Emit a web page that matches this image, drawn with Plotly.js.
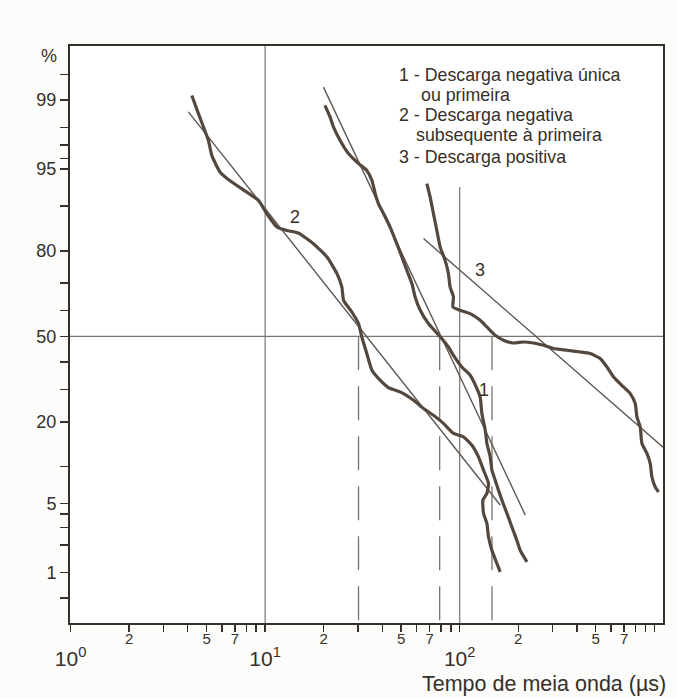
<!DOCTYPE html>
<html><head><meta charset="utf-8">
<script src="https://cdn.plot.ly/plotly-3.0.1.min.js"></script>
<style>html,body{margin:0;padding:0;background:#fcfcfb}#chart{width:677px;height:698px}</style>
</head><body><div id="chart"></div>
<script>
// ---- data (x: µs, y: cumulative %) ----
// Curve 1 – Descarga negativa única ou primeira
const c1_us  = [20.3,21.6,22.5,24.3,26.8,30.2,33.3,35.4,36.8,38.2,40.6,43.9,47.5,50.5,53.5,56.8,59.0,62.7,68.9,75.7,82.2,87.5,92.9,102.6,113.2,122.5,127.5,130.0,135.3,138.0,143.5,146.4,152.2,158.3,164.8,174.9,185.5,196.8,204.6,221.6];
const c1_pct = [98.85,98.44,98.01,97.30,96.39,95.54,94.87,93.74,91.99,90.42,88.64,85.88,81.9,78.21,74.19,69.8,65.06,60.09,55.09,51.57,48.43,45.82,42.58,38.13,35.06,30.43,27.43,22.36,17.78,14.58,11.76,9.38,7.84,6.49,5.34,4.07,3.03,2.23,1.76,1.32];
// Curve 2 – Descarga negativa subsequente à primeira
const c2_us  = [4.20,4.54,5.11,5.32,5.87,6.74,8.05,9.24,10.2,11.5,12.9,14.8,17.7,20.8,23.4,24.8,25.3,27.9,30.2,31.4,33.3,35.4,39.0,43.0,49.4,57.9,65.2,73.3,82.5,92.9,104.6,115.6,124.9,132.6,140.6,138.0,131.6,132.6,138.0,140.6,146.4,155.3,161.5];
const c2_pct = [99.11,98.58,97.30,96.25,94.69,93.55,92.2,90.94,88.64,85.88,85.12,84.52,81.9,78.21,73.12,68.61,63.82,59.44,54.97,49.72,43.25,36.90,33.27,30.68,29.21,26.46,23.84,21.85,19.55,16.94,16.1,14.19,11.76,9.38,7.38,6.10,5.34,4.07,3.28,2.42,1.76,1.27,1.02];
// Curve 3 – Descarga positiva
const c3_us  = [67.8,70.5,73.3,76.3,79.4,84.2,87.5,89.3,92.9,92.3,100.6,113.2,127.5,138.0,152.2,168.0,189.1,212.8,239.6,269.8,303.5,355.7,416.6,468.8,527.5,571.2,618.0,695.0,752.8,798.4,814.7,847.2,864.6,917.3,953.7,972.8,1012,1052];
const c3_pct = [93.36,91.46,88.64,85.12,81.0,77.24,73.12,68.61,65.06,61.33,60.09,58.82,56.24,53.64,50.39,48.43,47.37,47.76,47.37,46.47,45.19,44.52,43.86,43.25,41.32,38.13,34.44,30.89,28.64,25.4,21.37,18.59,14.58,12.45,10.52,8.3,6.9,6.27];
// Fitted log-normal straight lines (end points)
const fit1_us = [19.94,217.3], fit1_pct = [99.29,3.92];
const fit2_us = [4.03,161.5],  fit2_pct = [98.64,4.84];
const fit3_us = [65.2,1110],   fit3_pct = [83.19,13.74];
// Median markers (dashed verticals from 50 %)
const median_us = [30.2,78.9,146.5];
// Curve number labels [µs, %]
const labelNames = ['1','2','3'];
const labelPos_us = [132.6,14.3,127.5];
const labelPos_pct = [29.8,88.0,74.2];
// Axis ticks
const yLabeledPct = [1,5,20,50,80,95,99];
const yMinorPct = [0.5,2,3,4,10,30,40,60,70,90,96,97,98,99.5];
const xLabeled = [2,5,7,20,50,70,200,500,700];
const xAllTicks = [1,2,3,4,5,6,7,8,9,10,20,30,40,50,60,70,80,90,100,200,300,400,500,600,700,800,900,1000];
const xDecades = [1,10,100];
const xDecadeText = ['10<sup>0</sup>','10<sup>1</sup>','10<sup>2</sup>'];
const legendLines = ['1 - Descarga negativa única','ou primeira','2 - Descarga negativa','subsequente à primeira','3 - Descarga positiva'];

// ---- probability (normal) scale ----
function probit(p){
 const a=[-3.969683028665376e+01,2.209460984245205e+02,-2.759285104469687e+02,1.383577518672690e+02,-3.066479806614716e+01,2.506628277459239e+00];
 const b=[-5.447609879822406e+01,1.615858368580409e+02,-1.556989798598866e+02,6.680131188771972e+01,-1.328068155022803e+01];
 const c=[-7.784894002430293e-03,-3.223964580411365e-01,-2.400758277161838e+00,-2.549732539343734e+00,4.374664141464968e+00,2.938163982698783e+00];
 const d=[7.784695709041462e-03,3.224671290700398e-01,2.445134137142996e+00,3.754408661907416e+00];
 const pl=0.02425, ph=1-pl; let q,r;
 if(p<pl){q=Math.sqrt(-2*Math.log(p));return (((((c[0]*q+c[1])*q+c[2])*q+c[3])*q+c[4])*q+c[5])/((((d[0]*q+d[1])*q+d[2])*q+d[3])*q+1);}
 if(p<=ph){q=p-0.5;r=q*q;return (((((a[0]*r+a[1])*r+a[2])*r+a[3])*r+a[4])*r+a[5])*q/(((((b[0]*r+b[1])*r+b[2])*r+b[3])*r+b[4])*r+1);}
 q=Math.sqrt(-2*Math.log(1-p));return -(((((c[0]*q+c[1])*q+c[2])*q+c[3])*q+c[4])*q+c[5])/((((d[0]*q+d[1])*q+d[2])*q+d[3])*q+1);
}
const Z = arr => arr.map(v => probit(v/100));

const ink = '#362f2a', curveCol = '#54473d', thinCol = '#5e5650', gridCol = '#7a746e';
const FONT = 'Liberation Sans, Arial, sans-serif';

const traces = [];
// gridlines (clipped by the plot area)
traces.push({x:[10,10], y:Z([99.95,0.05]), mode:'lines', line:{color:gridCol,width:1.2}});
traces.push({x:[100,100], y:Z([92.9,0.05]), mode:'lines', line:{color:gridCol,width:1.2}});
traces.push({x:[0.5,5000], y:Z([50,50]), mode:'lines', line:{color:gridCol,width:1.2}});
median_us.forEach(m => traces.push({x:[m,m], y:Z([50,0.05]), mode:'lines', line:{color:gridCol,width:1.3,dash:'34px,16px'}}));
// fitted straight lines
[[fit1_us,fit1_pct],[fit2_us,fit2_pct],[fit3_us,fit3_pct]].forEach(([xs,ps]) =>
  traces.push({x:xs, y:Z(ps), mode:'lines', line:{color:thinCol,width:1.4}}));
// measured distributions
[[c1_us,c1_pct],[c2_us,c2_pct],[c3_us,c3_pct]].forEach(([xs,ps]) =>
  traces.push({x:xs, y:Z(ps), mode:'lines', line:{color:curveCol,width:3.2,shape:'spline',smoothing:0.5}}));
// invisible traces to activate the overlaid label axes
traces.push({x:[1,1000], y:[0,0], xaxis:'x2', mode:'lines', line:{width:0}, opacity:0});
traces.push({x:[1,1000], y:[0,0], xaxis:'x3', mode:'lines', line:{width:0}, opacity:0});

const xr = [-0.003, 3.045];
const annotations = [];
labelNames.forEach((t,i) => annotations.push({x:Math.log10(labelPos_us[i]), y:probit(labelPos_pct[i]/100), xref:'x', yref:'y', text:t, showarrow:false, font:{family:FONT,size:18,color:ink}}));
annotations.push({x:-0.039, y:0.993, xref:'paper', yref:'paper', xshift:-8, yshift:6, text:'%', showarrow:false, font:{family:FONT,size:18,color:ink}});
annotations.push({x:1.008, y:-0.105, xref:'paper', yref:'paper', xanchor:'right', yanchor:'middle', text:'Tempo de meia onda (µs)', showarrow:false, font:{family:FONT,size:21.5,color:ink}});
const legX = [0.5520,0.5890,0.5520,0.5800,0.5520];
const legY = [0.9497,0.915,0.8804,0.8457,0.8081];
legendLines.forEach((t,i) => annotations.push({x:legX[i], y:legY[i], xref:'paper', yref:'paper', xanchor:'left', yanchor:'middle', text:t, showarrow:false, font:{family:FONT,size:17.8,color:ink}}));

const layout = {
  width:677, height:698,
  margin:{l:70, r:14, t:46, b:75},
  paper_bgcolor:'#fcfcfb', plot_bgcolor:'#ffffff',
  showlegend:false, hovermode:false,
  font:{family:FONT, color:ink},
  xaxis:{type:'log', range:xr, tickmode:'array', tickvals:xAllTicks, showticklabels:false,
         ticks:'outside', ticklen:7, tickwidth:1.5, tickcolor:ink,
         showline:true, linecolor:ink, linewidth:2, mirror:true,
         showgrid:false, zeroline:false},
  xaxis2:{type:'log', range:xr, overlaying:'x', anchor:'y', side:'bottom', tickmode:'array',
          tickvals:xDecades, ticktext:xDecadeText, ticks:'', showline:false, showgrid:false, zeroline:false,
          ticklabelstandoff:21, tickfont:{family:FONT,size:21,color:ink}},
  xaxis3:{type:'log', range:xr, overlaying:'x', anchor:'y', side:'bottom', tickmode:'array',
          tickvals:xLabeled, ticktext:xLabeled.map(v => String(v).charAt(0)), ticks:'', showline:false, showgrid:false, zeroline:false,
          ticklabelstandoff:5, tickfont:{family:FONT,size:15,color:ink}},
  yaxis:{range:[-2.822,2.857], tickmode:'array', tickvals:Z(yLabeledPct), ticktext:yLabeledPct.map(String),
         ticks:'outside', ticklen:8, tickwidth:1.5, tickcolor:ink,
         minor:{tickmode:'array', tickvals:Z(yMinorPct), ticks:'outside', ticklen:8, tickwidth:1.5, tickcolor:ink, showgrid:false},
         showline:true, linecolor:ink, linewidth:2, mirror:true,
         showgrid:false, zeroline:false, tickfont:{family:FONT,size:18,color:ink}},
  annotations:annotations
};
Plotly.newPlot('chart', traces, layout, {staticPlot:true, displayModeBar:false});
</script></body></html>
